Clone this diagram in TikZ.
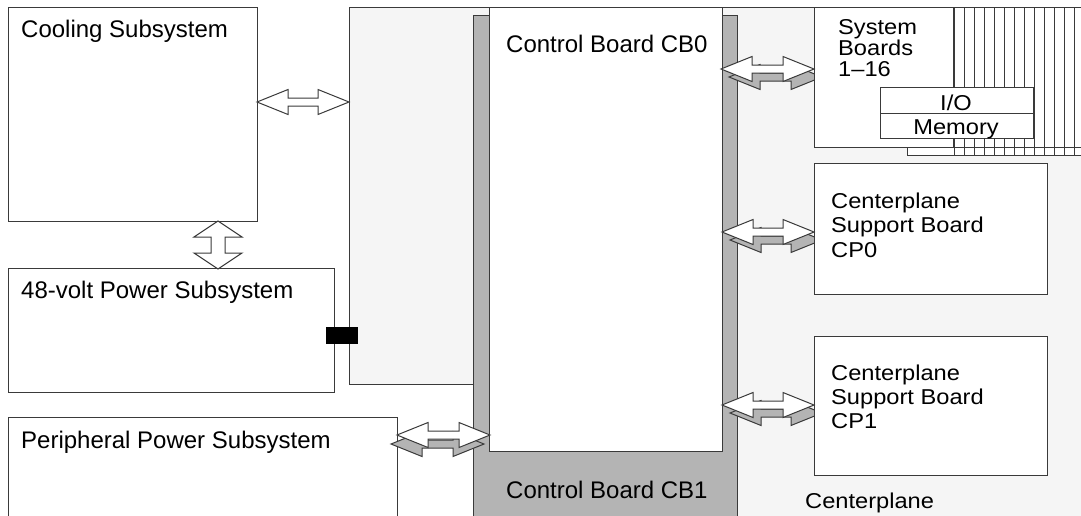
\documentclass[tikz,border=0pt]{standalone}
\usepackage{fontspec}
\setmainfont{Liberation Sans}
\newfontfamily\widefont[FakeStretch=1.1]{Liberation Sans}
\usetikzlibrary{calc}
\definecolor{linec}{HTML}{3A3A3A}
\definecolor{cpfill}{HTML}{F5F5F5}
\definecolor{cbgray}{HTML}{B4B4B4}
\tikzset{
  ln/.style={draw=linec, line width=1pt},
  box/.style={ln, fill=white, anchor=north west, inner sep=0pt, outer sep=0pt},
  lbl/.style={anchor=base west, inner sep=0pt, font=\fontsize{24}{28}\selectfont},
  slbl/.style={anchor=base west, inner sep=0pt, font=\widefont\fontsize{21.5}{24}\selectfont},
  clbl/.style={anchor=base, inner sep=0pt, font=\widefont\fontsize{21.5}{24}\selectfont},
  arrowbody/.style={ln, fill=white, line join=miter},
  arrowshadow/.style={ln, fill=cbgray, line join=miter},
}
\newcommand\hdarrow[4]{%
  \path[#1] let \p1=(#2), \p2=(#3), \n1={veclen(\x2-\x1,\y2-\y1)-62} in
    ([shift={#4}]#2) -- ++(31,12.5) -- ++(0,-8.5) -- ++(\n1,0) -- ++(0,8.5)
    -- ++(31,-12.5) -- ++(-31,-12.5) -- ++(0,8.5) -- ++(-\n1,0) -- ++(0,-8.5) -- cycle;}
\begin{document}
\begin{tikzpicture}[x=1pt,y=-1pt]
\clip (0,0) rectangle (1081,515);
\fill[white] (0,0) rectangle (1081,515);
% centerplane
\fill[cpfill] (349,7) -- (1090,7) -- (1090,525) -- (473,525) -- (473,384) -- (349,384) -- cycle;
\draw[ln] (473,384) -- (349,384) -- (349,7) -- (1090,7);
% control boards
\node[box, fill=cbgray, minimum width=264, minimum height=510] (cb1) at (473,15) {};
\node[box, minimum width=233, minimum height=444] (cb0) at (489,7) {};
% left subsystems
\node[box, minimum width=249, minimum height=214] (cool) at (8,7) {};
\node[box, minimum width=326, minimum height=124] (pwr) at (8,268) {};
\node[box, minimum width=389, minimum height=120] (peri) at (8,417) {};
\node[lbl] at (21,37) {Cooling Subsystem};
\node[lbl] at (21,298) {48-volt Power Subsystem};
\node[lbl] at (21,448) {Peripheral Power Subsystem};
\node[lbl] at (506,52) {Control Board CB0};
\node[lbl] at (506,498) {Control Board CB1};
\node[slbl] at (805,508) {Centerplane};
% arrow end points
\coordinate (a1l) at (257,102); \coordinate (a1r) at (349,102);
\coordinate (a2l) at (397,435); \coordinate (a2r) at (490,435);
\coordinate (a3l) at (721,69);  \coordinate (a3r) at (814,69);
\coordinate (a4l) at (722,232); \coordinate (a4r) at (814,232);
\coordinate (a5l) at (722,405); \coordinate (a5r) at (814,405);
\coordinate (vt) at (218,221);  \coordinate (vb) at (218,269);
% shadows
\hdarrow{arrowshadow}{a2l}{a2r}{(-6,9)}
\hdarrow{arrowshadow}{a3l}{a3r}{(8,8)}
\hdarrow{arrowshadow}{a4l}{a4r}{(8,8)}
\hdarrow{arrowshadow}{a5l}{a5r}{(8,8)}
% system boards stack
\node[box, minimum width=180, minimum height=148] (sbback) at (907,7) {};
\foreach \x in {954,964,...,1074} \draw[ln] (\x,7) -- (\x,155);
\node[box, minimum width=139, minimum height=140] (sb) at (814,7) {};
\draw[ln] (sb.south east) -- (1090,147);
\node[box, minimum width=153, minimum height=26] (io) at (880,87) {};
\node[box, minimum width=153, minimum height=25] (mem) at (880,113) {};
\node[clbl] at (956,110) {I/O};
\node[clbl] at (956,134) {Memory};
\node[slbl] at (838,34) {System};
\node[slbl] at (838,55) {Boards};
\node[slbl] at (838,76) {1–16};
% centerplane support boards
\node[box, minimum width=233, minimum height=131] (cp0) at (814,163) {};
\node[box, minimum width=233, minimum height=139] (cp1) at (814,336) {};
\node[slbl] at (831,208) {Centerplane};
\node[slbl] at (831,232) {Support Board};
\node[slbl] at (831,257) {CP0};
\node[slbl] at (831,380) {Centerplane};
\node[slbl] at (831,404) {Support Board};
\node[slbl] at (831,428) {CP1};
% white arrows
\hdarrow{arrowbody}{a1l}{a1r}{(0,0)}
\hdarrow{arrowbody}{a2l}{a2r}{(0,0)}
\hdarrow{arrowbody}{a3l}{a3r}{(0,0)}
\hdarrow{arrowbody}{a4l}{a4r}{(0,0)}
\hdarrow{arrowbody}{a5l}{a5r}{(0,0)}
\path[arrowbody] (vt) -- ++(24,16) -- ++(-17,0) -- ($(vb)+(7,-16)$) -- ++(17,0)
  -- (vb) -- ++(-24,-16) -- ++(17,0) -- ($(vt)+(-7,16)$) -- ++(-17,0) -- cycle;
% power connector
\node[fill=black, inner sep=0pt, anchor=north west, minimum width=32, minimum height=17] (conn) at (326,327) {};
\end{tikzpicture}
\end{document}
